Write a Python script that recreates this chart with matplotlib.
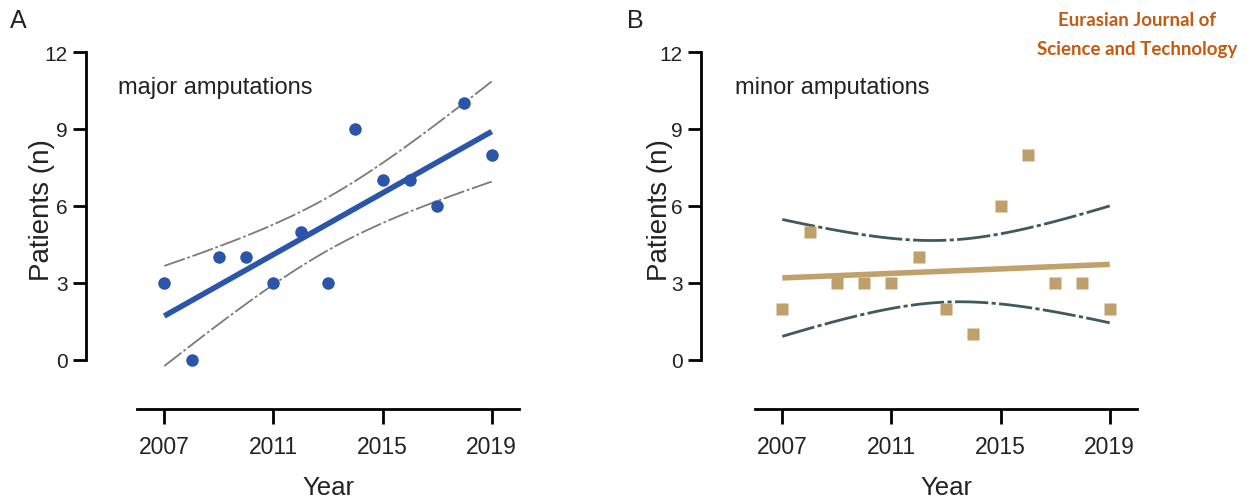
import numpy as np
import matplotlib
matplotlib.use("Agg")
import matplotlib.pyplot as plt

# data
years = np.arange(2007, 2020)
major = [3, 0, 4, 4, 3, 5, 3, 9, 7, 7, 6, 10, 8]
minor = [2, 5, 3, 3, 3, 4, 2, 1, 6, 8, 3, 3, 2]
x_ticks = [2007, 2011, 2015, 2019]
y_ticks = [0, 3, 6, 9, 12]
T_CRIT = 2.201  # t(0.975, df=11) for the 95% band of the fit

plt.rcParams["font.family"] = ["Liberation Sans", "DejaVu Sans"]

W, H = 1255, 502


def fit_with_ci(x, y, n_pts=120):
    x = np.asarray(x, float)
    y = np.asarray(y, float)
    slope, icpt = np.polyfit(x, y, 1)
    resid = y - (slope * x + icpt)
    s = np.sqrt(np.sum(resid ** 2) / (len(x) - 2))
    xs = np.linspace(x.min(), x.max(), n_pts)
    ys = slope * xs + icpt
    se = s * np.sqrt(1 / len(x) + (xs - x.mean()) ** 2 / np.sum((x - x.mean()) ** 2))
    return xs, ys, ys - T_CRIT * se, ys + T_CRIT * se


def style_axes(ax, left_out):
    ax.set_xlim(2006, 2020)
    ax.set_ylim(-1.91, 12)
    ax.set_xticks(x_ticks)
    ax.set_yticks(y_ticks)
    for side in ("top", "right"):
        ax.spines[side].set_visible(False)
    ax.spines["left"].set_position(("outward", left_out))
    ax.spines["left"].set_bounds(0, 12)
    for side in ("left", "bottom"):
        ax.spines[side].set_linewidth(2.0)
    ax.tick_params(axis="x", length=10.5, width=2.0, pad=8, labelsize=16.5, labelcolor="#222222")
    ax.tick_params(axis="y", length=9.5, width=2.0, pad=3.5, labelsize=15, labelcolor="#222222")
    ax.set_ylabel("Patients (n)", fontsize=20, va="center", color="#222222")
    ax.yaxis.set_label_coords(-0.248, 0.56)
    ax.set_xlabel("Year", fontsize=18.5, va="center", color="#222222")
    ax.xaxis.set_label_coords(0.5, -0.218)


fig = plt.figure(figsize=(W / 100, H / 100), dpi=100)
ax1 = fig.add_axes([137 / W, 1 - 410 / H, 382 / W, 357 / H])
ax2 = fig.add_axes([755 / W, 1 - 410 / H, 382 / W, 357 / H])

# panel A
xs, ys, lo, hi = fit_with_ci(years, major)
ax1.plot(xs, hi, color="#7a7a7a", lw=1.3, ls=(0, (12, 1.5, 1.5, 1.5)))
ax1.plot(xs, lo, color="#7a7a7a", lw=1.3, ls=(0, (12, 1.5, 1.5, 1.5)))
ax1.plot(xs, ys, color="#2a55ab", lw=4, solid_capstyle="butt")
ax1.plot(years, major, "o", color="#2a55ab", ms=9, mec="none", clip_on=False, zorder=5)
style_axes(ax1, 37)

# panel B
xs, ys, lo, hi = fit_with_ci(years, minor)
ax2.plot(xs, hi, color="#3e5a5e", lw=2, ls=(0, (12, 1.2, 1.5, 1.2)))
ax2.plot(xs, lo, color="#3e5a5e", lw=2, ls=(0, (12, 1.2, 1.5, 1.2)))
ax2.plot(xs, ys, color="#c0a16c", lw=4, solid_capstyle="butt")
ax2.plot(years, minor, "s", color="#bfa06b", ms=8.5, mec="none", clip_on=False, zorder=5)
style_axes(ax2, 39)

fig.text(118 / W, 1 - 88 / H, "major amputations", fontsize=17, ha="left", va="center", color="#222222")
fig.text(735 / W, 1 - 88 / H, "minor amputations", fontsize=17, ha="left", va="center", color="#222222")
fig.text(18 / W, 1 - 21 / H, "A", fontsize=18, ha="center", va="center", color="#222222")
fig.text(635 / W, 1 - 21 / H, "B", fontsize=18, ha="center", va="center", color="#222222")

journal = dict(fontsize=13.5, ha="center", va="center", color="#c55a11",
               fontweight="bold", family=["Lato", "Open Sans", "DejaVu Sans"])
fig.text(1137 / W, 1 - 21 / H, "Eurasian Journal of", **journal)
fig.text(1137 / W, 1 - 49 / H, "Science and Technology", **journal)

fig.savefig("out.png", dpi=100)
